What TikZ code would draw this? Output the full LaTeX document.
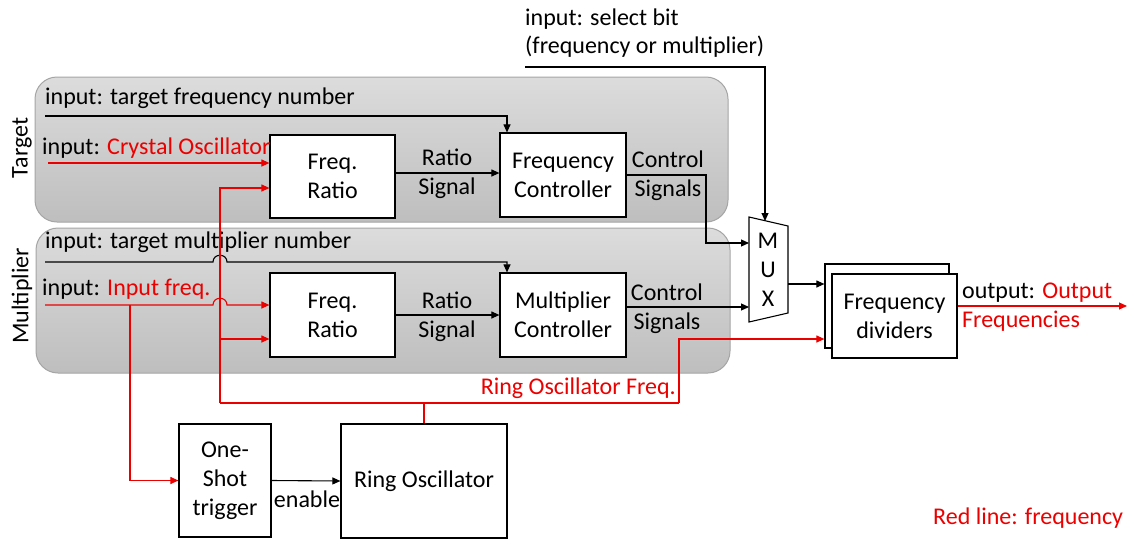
\documentclass[tikz,border=0pt]{standalone}
\usepackage{fontspec}
\setmainfont{Carlito}
\usetikzlibrary{arrows.meta,calc}
\definecolor{lred}{RGB}{235,0,0}
\definecolor{bandtop}{RGB}{220,220,220}
\definecolor{bandbot}{RGB}{190,190,190}
\definecolor{bandline}{RGB}{165,165,165}
\tikzset{
  band/.style={draw=bandline, line width=1pt, rounded corners=22pt, top color=bandtop, bottom color=bandbot},
  blk/.style={draw, fill=white, line width=1.2pt, align=center, inner sep=0pt},
  arr/.style={-{Triangle[length=8pt,width=7pt]}, line width=1.1pt},
  rarr/.style={arr, draw=lred, color=lred},
  rline/.style={draw=lred, line width=1.1pt},
  lbl/.style={inner sep=0pt, anchor=west, align=left},
  ctr/.style={inner sep=0pt, align=center}
}
\begin{document}
\begin{tikzpicture}[x=1pt,y=-1pt,font=\fontsize{24}{29}\selectfont]
\useasboundingbox (0,0) rectangle (1133,547);
% bands
\node[band, minimum width=693pt, minimum height=145pt] (tband) at (381.5,149.5) {};
\node[band, minimum width=694pt, minimum height=145pt] (mband) at (383,300.5) {};
\node[rotate=90, inner sep=0pt] (tlab) at (22,148) {Target};
\node[rotate=90, inner sep=0pt] (mlab) at (22,296) {Multiplier};
% blocks
\node[blk, minimum width=125pt, minimum height=83pt] (fr1) at (332.5,176.5) {Freq.\\Ratio};
\node[blk, minimum width=126pt, minimum height=84pt] (fc) at (563,175) {Frequency\\Controller};
\node[blk, minimum width=125pt, minimum height=84pt] (fr2) at (332.5,315) {Freq.\\Ratio};
\node[blk, minimum width=126pt, minimum height=84pt] (mc) at (563,315) {Multiplier\\Controller};
\node[blk, minimum width=92pt, minimum height=113pt] (os) at (225,480.5) {One-\\Shot\\trigger};
\node[blk, minimum width=166pt, minimum height=114pt] (ro) at (424,481) {Ring Oscillator};
\node[blk, minimum width=124pt, minimum height=84pt] (fdb) at (887,306) {};
\node[blk, minimum width=125pt, minimum height=84pt] (fdf) at (894.5,316) {Frequency\\dividers};
% MUX
\coordinate (m1) at (749,217);
\coordinate (m2) at (788,226);
\coordinate (m3) at (788,313);
\coordinate (m4) at (749,322);
\draw[line width=1.1pt, fill=white] (m1) -- (m2) -- (m3) -- (m4) -- cycle;
\node[ctr] (muxt) at (768,270) {M\\U\\X};
\coordinate (muxin1) at (749,243);
\coordinate (muxin2) at (749,307);
\coordinate (muxsel) at (765,221);
\coordinate (muxout) at (788,284);
% labels
\node[lbl] (ltf) at (45,98) {input: target frequency number};
\node[lbl] (lco) at (42,148) {input: \textcolor{lred}{Crystal Oscillator}};
\node[ctr] (rs1) at (447,174) {Ratio\\Signal};
\node[ctr] (cs1) at (668,176) {Control\\Signals};
\node[lbl] (ltm) at (45,242) {input: target multiplier number};
\node[lbl] (lif) at (42,289) {input: \textcolor{lred}{Input freq.}};
\node[ctr] (rs2) at (447,317) {Ratio\\Signal};
\node[ctr] (cs2) at (667,309) {Control\\Signals};
\node[lbl] (lsb1) at (525,19) {input: select bit};
\node[lbl] (lsb2) at (525,47) {(frequency or multiplier)};
\node[inner sep=0pt, anchor=east, text=lred] (lrof) at (676,388) {Ring Oscillator Freq.};
\node[ctr] (len) at (307,499) {enable};
\node[lbl] (lout1) at (962,293) {output: \textcolor{lred}{Output}};
\node[lbl, text=lred] (lout2) at (962,321) {Frequencies};
\node[lbl, text=lred] (lleg) at (933,518) {Red line: frequency};
% coordinates for free ends
\coordinate (tfs) at (45,116);
\coordinate (tf1) at (507,116);
\coordinate (cos) at (48,163);
\coordinate (tms) at (45,262);
\coordinate (tm1) at (507,262);
\coordinate (ifs) at (45,305);
\coordinate (b1) at (130,305);
\coordinate (j1) at (220,403);
\coordinate (j2) at (679,403);
\coordinate (sbs) at (525,67);
\coordinate (sbc) at (765,67);
\coordinate (oute) at (1127,306);
% black connectors
\draw[arr] (tfs) -- (tf1) -- (tf1 |- fc.north);
\draw[arr] (fr1.east |- 0,173) -- (fc.west |- 0,173);
\draw[arr] (fc.east) -- (706,175) |- (muxin1);
\draw[arr] (tms) -- (213,262) .. controls (213,253) and (227,253) .. (227,262) -- (tm1) -- (tm1 |- mc.north);
\draw[arr] (fr2.east) -- (mc.west);
\draw[arr] (mc.east |- muxin2) -- (muxin2);
\draw[arr] (sbs) -- (sbc) -- (muxsel);
\draw[arr] (muxout) -- (fdb.west |- muxout);
\draw[arr] (os.east) -- (ro.west);
% red connectors
\draw[rarr] (cos) -- (fr1.west |- cos);
\draw[rarr] (ifs) -- (213,305) .. controls (213,296) and (227,296) .. (227,305) -- (fr2.west |- ifs);
\draw[rarr] (b1) |- (os.west);
\draw[rline] (ro.north) -- (ro.north |- j1);
\draw[rline] (j1) -- (j2);
\draw[rarr] (j1) |- ($(fr1.west)+(0,11.5)$);
\draw[rarr] (j1 |- 0,339) -- (fr2.west |- 0,339);
\draw[rarr] (j2) |- (fdb.west |- 0,339);
\draw[rarr] (fdf.east |- oute) -- (oute);
\end{tikzpicture}
\end{document}
